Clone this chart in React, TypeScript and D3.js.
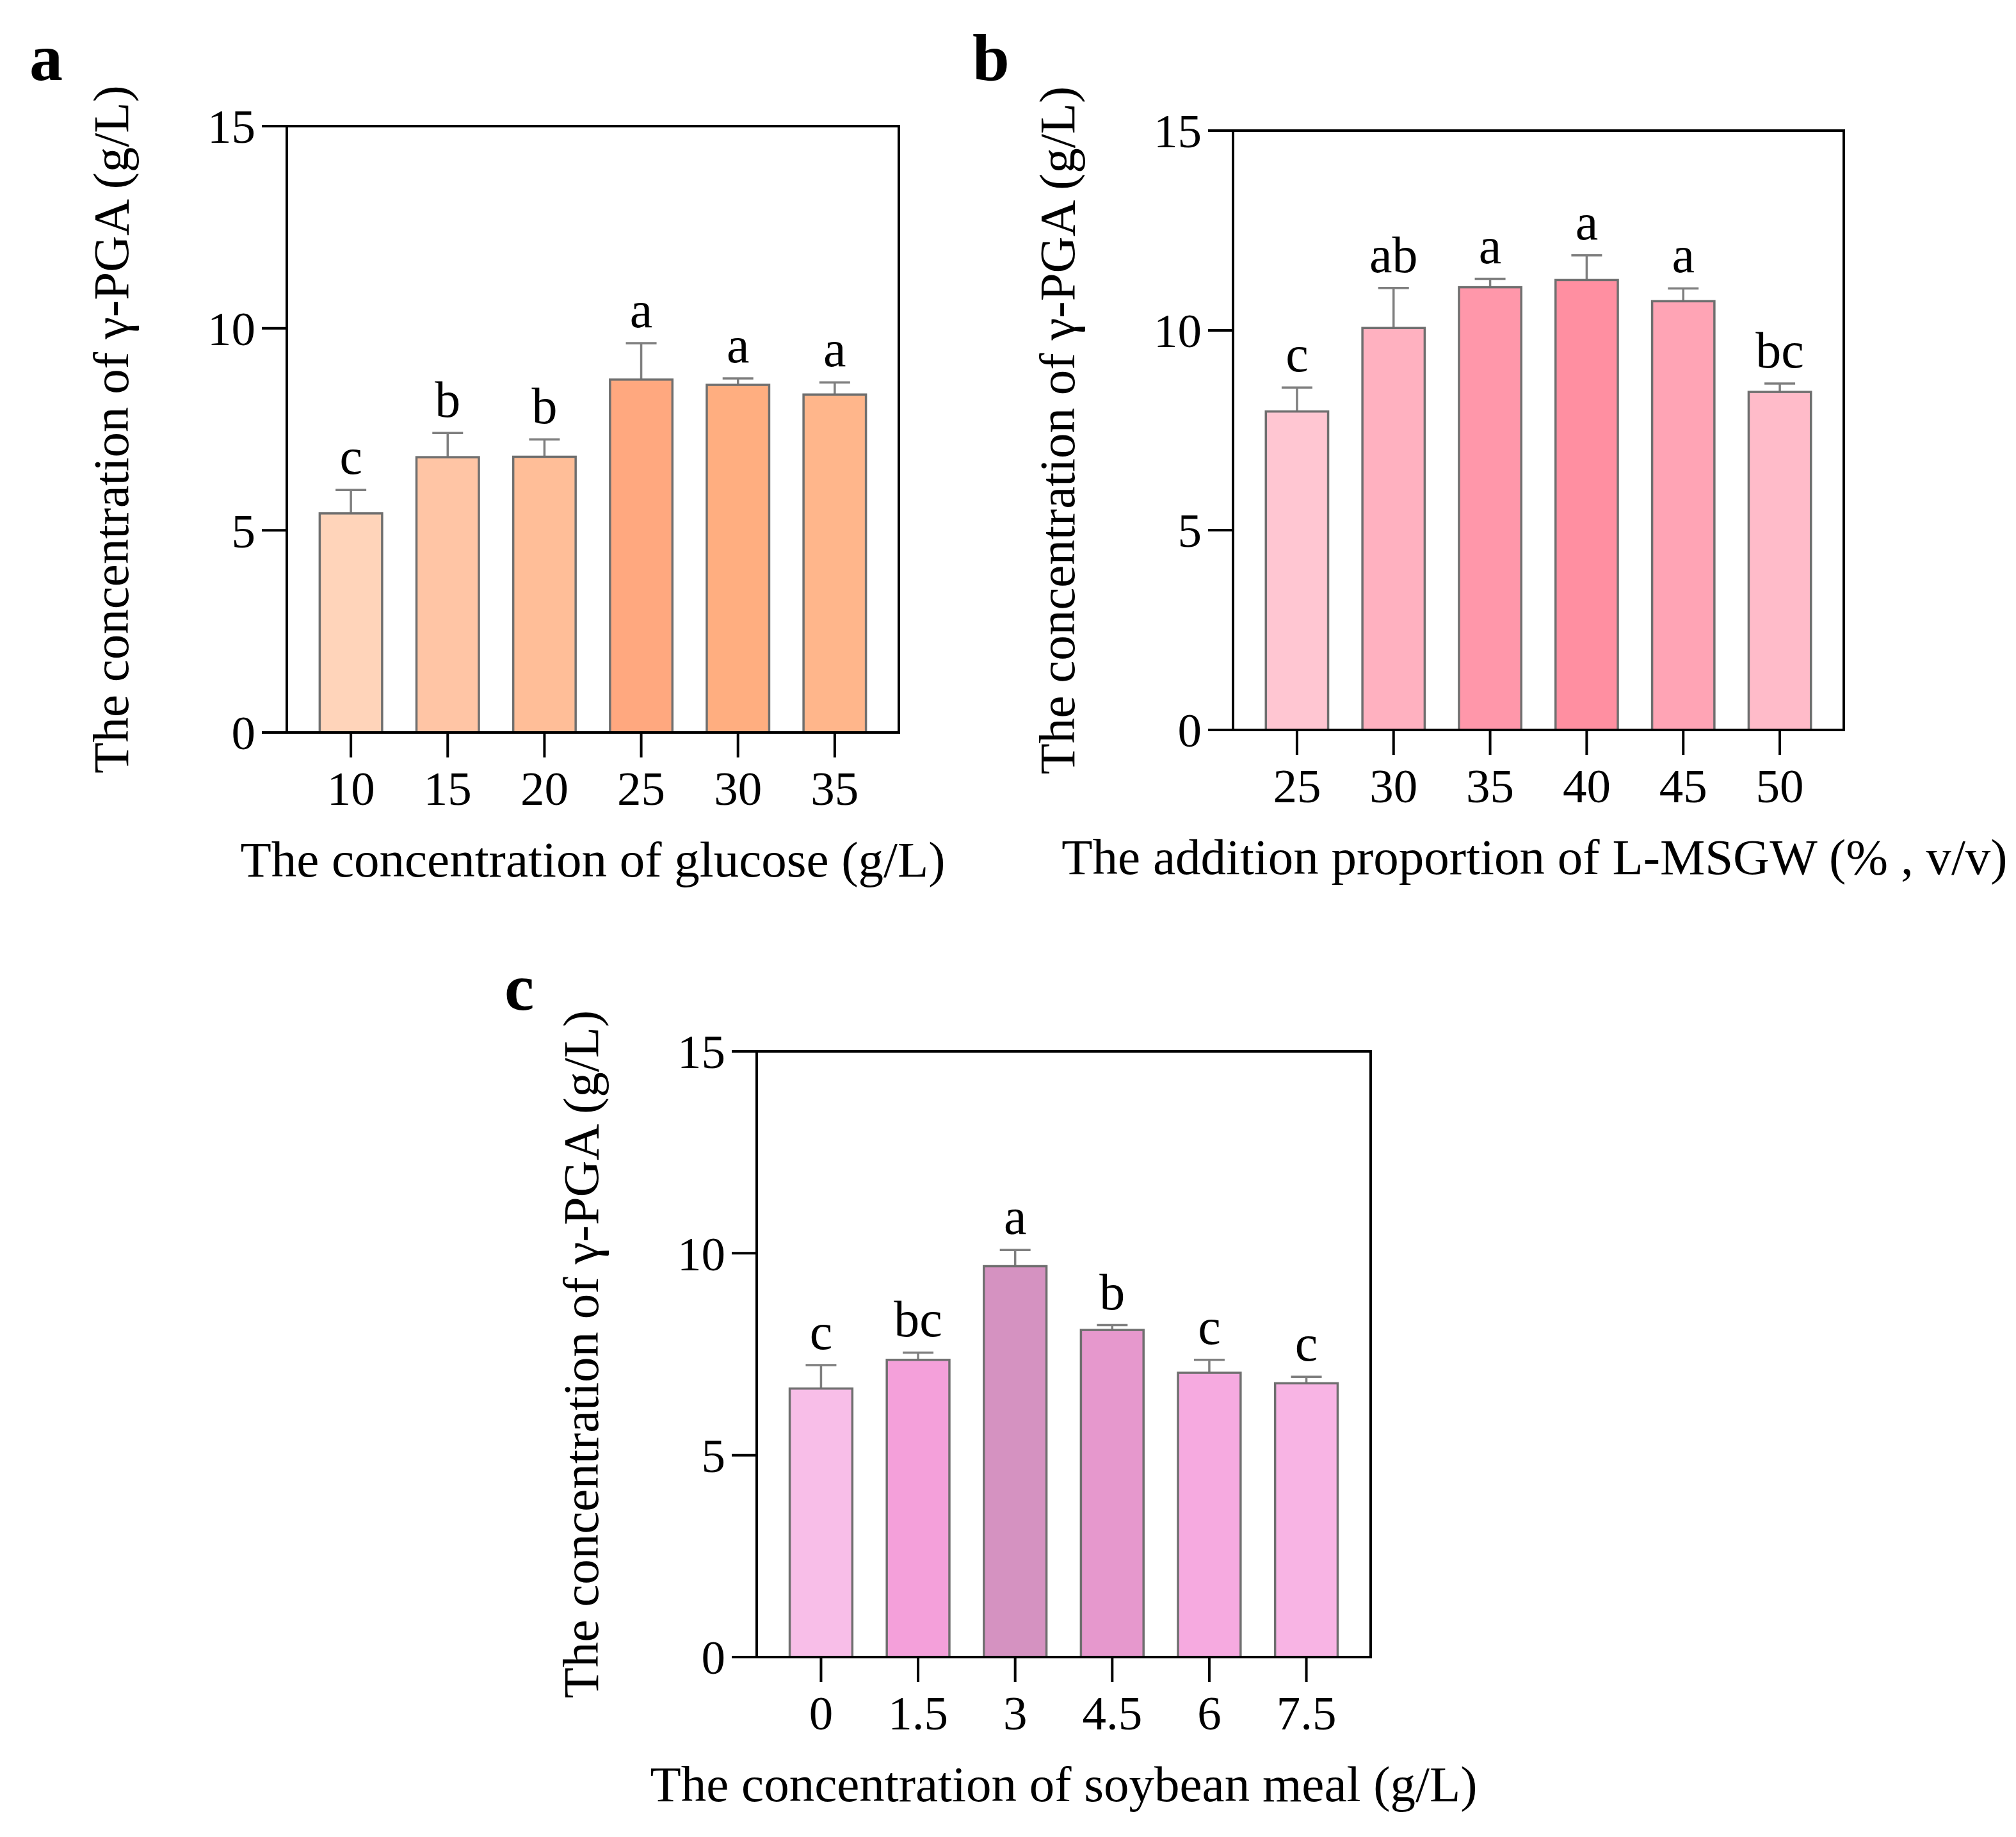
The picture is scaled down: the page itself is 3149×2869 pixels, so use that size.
import * as d3 from "d3";

// panel a: glucose
const glucoseLevels = ["10", "15", "20", "25", "30", "35"];
const glucoseMeans = [5.42, 6.81, 6.82, 8.73, 8.6, 8.36];
const glucoseErrors = [0.58, 0.6, 0.43, 0.9, 0.16, 0.3];
const glucoseLetters = ["c", "b", "b", "a", "a", "a"];
const glucoseColors = ["#FFD4BA", "#FFC5A5", "#FFBE98", "#FFA87F", "#FFAE80", "#FFB68B"];

// panel b: L-MSGW proportion
const msgwLevels = ["25", "30", "35", "40", "45", "50"];
const msgwMeans = [7.97, 10.06, 11.08, 11.26, 10.73, 8.46];
const msgwErrors = [0.6, 1.0, 0.21, 0.62, 0.32, 0.21];
const msgwLetters = ["c", "ab", "a", "a", "a", "bc"];
const msgwColors = ["#FFC6D2", "#FFB1C0", "#FF97AA", "#FF8FA1", "#FFA4B5", "#FFBBC9"];

// panel c: soybean meal
const soyLevels = ["0", "1.5", "3", "4.5", "6", "7.5"];
const soyMeans = [6.65, 7.36, 9.68, 8.1, 7.04, 6.78];
const soyErrors = [0.58, 0.18, 0.4, 0.12, 0.32, 0.16];
const soyLetters = ["c", "bc", "a", "b", "c", "c"];
const soyColors = ["#F8BEE8", "#F4A0DA", "#D592C1", "#E698CD", "#F6AAE0", "#F8B4E4"];

const yTicks = [0, 5, 10, 15];
const yTitle = "The concentration of γ-PGA (g/L)";

const FONT = "'Liberation Serif', 'Times New Roman', serif";

interface PanelProps {
  tag: string;
  left: number;
  top: number;
  width: number;
  height: number;
  tagX: number;
  tagY: number;
  levels: string[];
  means: number[];
  errors: number[];
  letters: string[];
  colors: string[];
  xTitle: string;
  xTitleShift?: number;
}

const Panel = ({
  tag,
  left,
  top,
  width,
  height,
  tagX,
  tagY,
  levels,
  means,
  errors,
  letters,
  colors,
  xTitle,
  xTitleShift = 0,
}: PanelProps) => {
  const x = d3.scaleBand<string>().domain(levels).range([0, width]).paddingInner(0.355).paddingOuter(0.34);
  const y = d3.scaleLinear().domain([0, 15]).range([height, 0]);
  const bw = x.bandwidth();
  const cap = 24;

  return (
    <g>
      <text x={tagX} y={tagY} fontFamily={FONT} fontSize={104} fontWeight="bold">
        {tag}
      </text>
      <g transform={`translate(${left},${top})`}>
        {levels.map((lv, i) => {
          const cx = x(lv)! + bw / 2;
          const errTop = y(means[i] + errors[i]);
          return (
            <g key={lv}>
              <line x1={cx} x2={cx} y1={y(means[i])} y2={errTop} stroke="#7f7f7f" strokeWidth={3.5} />
              <line x1={cx - cap} x2={cx + cap} y1={errTop} y2={errTop} stroke="#7f7f7f" strokeWidth={3.5} />
              <rect
                x={x(lv)}
                y={y(means[i])}
                width={bw}
                height={height - y(means[i])}
                fill={colors[i]}
                stroke="#6f6f6f"
                strokeWidth={3.5}
              />
              <text x={cx} y={errTop - 25} textAnchor="middle" fontFamily={FONT} fontSize={80}>
                {letters[i]}
              </text>
            </g>
          );
        })}

        <rect x={0} y={0} width={width} height={height} fill="none" stroke="#000" strokeWidth={4} />

        {yTicks.map(t => (
          <g key={t}>
            <line x1={-39} x2={0} y1={y(t)} y2={y(t)} stroke="#000" strokeWidth={4} />
            <text x={-49} y={y(t)} dy="0.35em" textAnchor="end" fontFamily={FONT} fontSize={75}>
              {t}
            </text>
          </g>
        ))}

        {levels.map(lv => {
          const cx = x(lv)! + bw / 2;
          return (
            <g key={lv}>
              <line x1={cx} x2={cx} y1={height} y2={height + 39} stroke="#000" strokeWidth={4} />
              <text x={cx} y={height + 113} textAnchor="middle" fontFamily={FONT} fontSize={75}>
                {lv}
              </text>
            </g>
          );
        })}

        <text
          x={width / 2 + xTitleShift}
          y={height + 225}
          textAnchor="middle"
          fontFamily={FONT}
          fontSize={79}
        >
          {xTitle}
        </text>
        <text
          transform={`translate(${-248},${height / 2}) rotate(-90)`}
          textAnchor="middle"
          fontFamily={FONT}
          fontSize={79}
        >
          {yTitle}
        </text>
      </g>
    </g>
  );
};

export default function App() {
  return (
    <svg
      width={3149}
      height={2869}
      viewBox="0 0 3149 2869"
      style={{ position: "absolute", left: 0, top: 0, background: "#fff" }}
    >
      <rect width={3149} height={2869} fill="#fff" />
      <Panel
        tag="a"
        tagX={46}
        tagY={125}
        left={448}
        top={197}
        width={956}
        height={947}
        levels={glucoseLevels}
        means={glucoseMeans}
        errors={glucoseErrors}
        letters={glucoseLetters}
        colors={glucoseColors}
        xTitle="The concentration of glucose (g/L)"
      />
      <Panel
        tag="b"
        tagX={1519}
        tagY={125}
        left={1926}
        top={204}
        width={954}
        height={936}
        levels={msgwLevels}
        means={msgwMeans}
        errors={msgwErrors}
        letters={msgwLetters}
        colors={msgwColors}
        xTitle="The addition proportion of L-MSGW (% , v/v)"
        xTitleShift={-6}
      />
      <Panel
        tag="c"
        tagX={788}
        tagY={1577}
        left={1182}
        top={1642}
        width={959}
        height={946}
        levels={soyLevels}
        means={soyMeans}
        errors={soyErrors}
        letters={soyLetters}
        colors={soyColors}
        xTitle="The concentration of soybean meal (g/L)"
      />
    </svg>
  );
}
